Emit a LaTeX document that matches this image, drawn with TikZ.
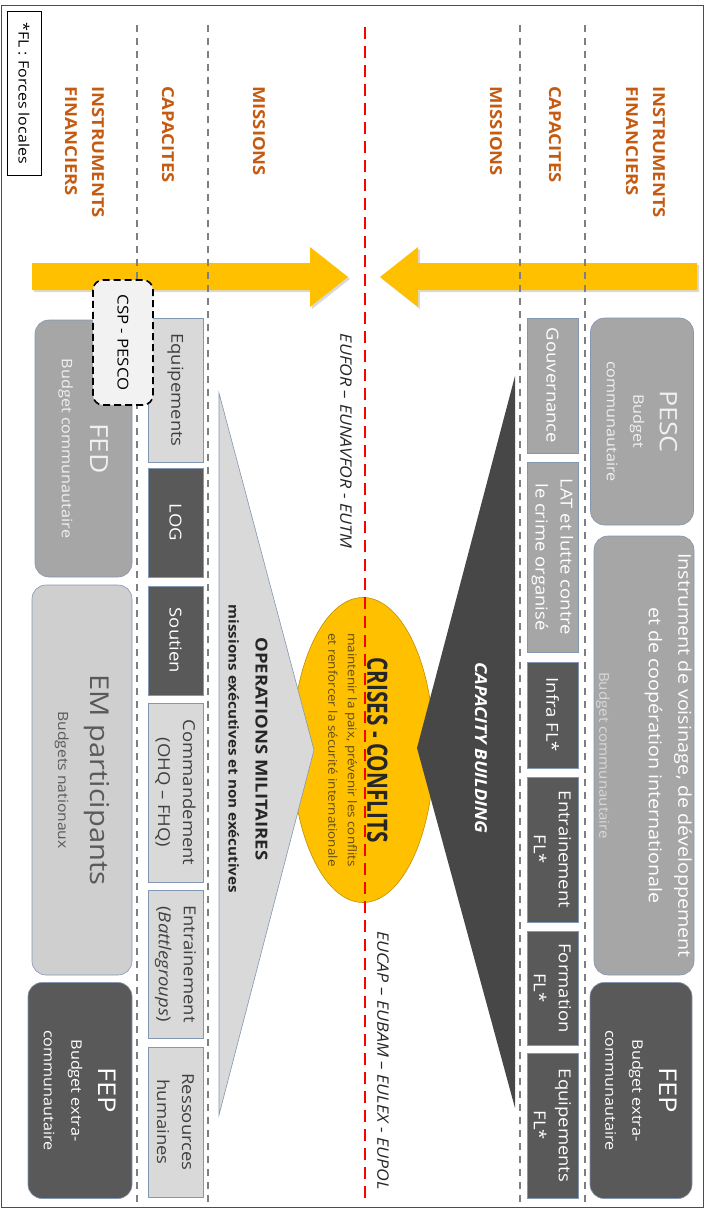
\documentclass[tikz,border=0pt]{standalone}
\usepackage{fontspec}
\setmainfont{Open Sans}[FakeStretch=1.12]
\newfontfamily\condfont{Open Sans}[FakeStretch=0.74]
\usetikzlibrary{shadows}

\definecolor{headorange}{HTML}{C55A11}
\definecolor{goldfill}{HTML}{FFC000}
\definecolor{goldedge}{HTML}{BF9000}
\definecolor{edgeblue}{HTML}{8497B0}
\definecolor{midgray}{HTML}{A6A6A6}
\definecolor{palegray}{HTML}{D9D9D9}
\definecolor{deepgray}{HTML}{595959}
\definecolor{tridark}{HTML}{474747}
\definecolor{emgray}{HTML}{CFCFCF}
\definecolor{cspfill}{HTML}{F2F2F2}
\definecolor{crisestext}{HTML}{5E4B14}
\definecolor{sepgray}{HTML}{7F7F7F}

\tikzset{
  vtext/.style={rotate=-90, inner sep=0pt, align=center},
  head/.style={vtext, anchor=west, align=left, text=headorange,
    font=\fontsize{16.5}{27}\selectfont\bfseries},
  capbox/.style={vtext, draw=edgeblue, line width=0.6pt,
    font=\fontsize{16.5}{25}\selectfont},
  capR/.style={capbox, minimum height=51pt},
  capL/.style={capbox, minimum height=55pt},
  cdark/.style={fill=deepgray, text=white},
  cmid/.style={fill=midgray, text=white},
  clight/.style={fill=palegray, text=black!75},
  finbox/.style={vtext, draw=edgeblue, line width=0.6pt, rounded corners=14pt},
  sepline/.style={sepgray, line width=1.3pt, dash pattern=on 7pt off 6pt},
  redline/.style={red, line width=2.4pt, dash pattern=on 12pt off 7pt},
  bigarrow/.style={fill=goldfill,
    drop shadow={opacity=0.3, shadow xshift=2pt, shadow yshift=-2pt}}
}

\begin{document}
\begin{tikzpicture}[x=1pt, y=-1pt]
  \useasboundingbox (0,0) rectangle (705,1209);
  \draw[black!70, line width=0.8pt] (1.5,5) rectangle (703,1207);

  % legend
  \node[vtext, draw=black, line width=0.8pt, minimum width=164pt, minimum height=34pt,
    font=\fontsize{14.3}{17}\selectfont] (legend) at (24,93) {*FL : Forces locales};

  % column titles
  \node[head] (finl) at (84.5,86) {INSTRUMENTS\\FINANCIERS};
  \node[head] (capl) at (168,86) {CAPACITES};
  \node[head] (misl) at (259,86) {MISSIONS};
  \node[head] (misr) at (496,86) {MISSIONS};
  \node[head] (capr) at (555,86) {CAPACITES};
  \node[head] (finr) at (645.5,86) {INSTRUMENTS\\FINANCIERS};

  % yellow arrows
  \fill[bigarrow] (32,263) -- (310,263) -- (310,247) -- (348,277)
    -- (310,307) -- (310,290) -- (32,290) -- cycle;
  \fill[bigarrow] (697,263) -- (418,263) -- (418,247) -- (380,277)
    -- (418,307) -- (418,290) -- (697,290) -- cycle;

  % separators
  \draw[sepline] (137,25) -- (137,1203);
  \draw[sepline] (208,25) -- (208,1203);
  \draw[sepline] (520,25) -- (520,1203);
  \draw[sepline] (585,25) -- (585,1203);

  % crisis in the middle
  \filldraw[fill=goldfill, draw=goldedge, line width=0.6pt]
    (363,750) ellipse [x radius=71pt, y radius=152.5pt];
  \draw[redline] (365,27) -- (365,1200);
  \filldraw[fill=palegray, draw=edgeblue, line width=0.6pt]
    (219,393) -- (314,750) -- (219,1115) -- cycle;
  \fill[tridark] (515,376) -- (417,748) -- (515,1108) -- cycle;

  \node[vtext, text=crisestext, font=\fontsize{12}{19.5}\selectfont] (crises) at (358,750)
    {{\condfont\bfseries\fontsize{28}{30}\selectfont\color{black!85}CRISES - CONFLITS}\\
     maintenir la paix, prévenir les conflits\\
     et renforcer la sécurité internationale};
  \node[vtext, text=black!85, font=\fontsize{13.6}{27}\selectfont\bfseries] (opmil) at (248,749)
    {{\fontsize{16.5}{20}\selectfont OPERATIONS MILITAIRES}\\
     missions exécutives et non exécutives};
  \node[vtext, text=white, font=\fontsize{16.5}{20}\selectfont\bfseries\itshape]
    (capbuild) at (481,748) {CAPACITY BUILDING};

  \node[vtext, text=black!85, font=\fontsize{15.8}{18}\selectfont\itshape]
    (eufor) at (346,441) {EUFOR – EUNAVFOR - EUTM};
  \node[vtext, text=black!85, font=\fontsize{15.8}{18}\selectfont\itshape]
    (eucap) at (383,1060.5) {EUCAP – EUBAM – EULEX - EUPOL};

  % capacities, capacity building side
  \node[capR, cmid, minimum width=135pt] (gouv) at (552.5,385.5) {Gouvernance};
  \node[capR, cmid, minimum width=190pt] (lat) at (552.5,557) {LAT et lutte contre\\le crime organisé};
  \node[capR, cdark, minimum width=106pt] (infra) at (552.5,715) {Infra FL*};
  \node[capR, cdark, minimum width=145pt] (entrfl) at (552.5,849.5) {Entrainement\\FL*};
  \node[capR, cdark, minimum width=114pt] (formfl) at (552.5,988) {Formation\\FL*};
  \node[capR, cdark, minimum width=145pt] (equipfl) at (552.5,1125.5) {Equipements\\FL*};

  % capacities, military side
  \node[capL, clight, minimum width=144pt] (equip) at (175.5,390) {Equipements};
  \node[capL, cdark, minimum width=109pt] (log) at (175.5,522.5) {LOG};
  \node[capL, cdark, minimum width=109pt] (soutien) at (175.5,640.5) {Soutien};
  \node[capL, clight, minimum width=179pt] (cmd) at (175.5,792.5) {Commandement\\(OHQ – FHQ)};
  \node[capL, clight, minimum width=148pt] (entrbg) at (175.5,964) {Entrainement\\(\textit{Battlegroups})};
  \node[capL, clight, minimum width=150pt] (rh) at (175.5,1122) {Ressources\\humaines};

  % financial instruments
  \node[finbox, fill=midgray, text=white!94!black, minimum width=207pt, minimum height=103pt,
    font=\fontsize{14.5}{26.5}\selectfont] (pesc) at (642,421.5)
    {{\fontsize{24}{27}\selectfont PESC}\\Budget\\communautaire};
  \node[finbox, fill=midgray, text=white, minimum width=439pt, minimum height=100pt,
    font=\fontsize{17.6}{29.5}\selectfont] (instr) at (644,755.5)
    {Instrument de voisinage, de développement\\et de coopération internationale\\[20pt]
     {\fontsize{13.5}{16}\selectfont\color{palegray}Budget communautaire}};
  \node[finbox, fill=deepgray, text=white, minimum width=216pt, minimum height=102pt,
    font=\fontsize{14.5}{27}\selectfont] (fepr) at (641,1090.5)
    {{\fontsize{24.5}{27}\selectfont FEP}\\Budget extra-\\communautaire};
  \node[finbox, fill=midgray, text=white!94!black, minimum width=257pt, minimum height=97pt,
    font=\fontsize{14.5}{29}\selectfont] (fed) at (83.5,448.5)
    {{\fontsize{25}{27}\selectfont FED}\\Budget communautaire};
  \node[finbox, fill=emgray, text=deepgray, minimum width=390pt, minimum height=100pt,
    font=\fontsize{14}{32}\selectfont] (em) at (82,780)
    {{\fontsize{26}{28}\selectfont EM participants}\\Budgets nationaux};
  \node[finbox, fill=deepgray, text=white, minimum width=216pt, minimum height=104pt,
    font=\fontsize{14.5}{27.5}\selectfont] (fepl) at (80,1090.5)
    {{\fontsize{24.5}{27}\selectfont FEP}\\Budget extra-\\communautaire};

  % permanent structured cooperation
  \node[vtext, draw=black, line width=1.6pt, dash pattern=on 7pt off 4pt, fill=cspfill,
    rounded corners=10pt, minimum width=125pt, minimum height=60pt,
    font=\fontsize{15}{18}\selectfont] (csp) at (123,342.5) {CSP - PESCO};
\end{tikzpicture}
\end{document}
